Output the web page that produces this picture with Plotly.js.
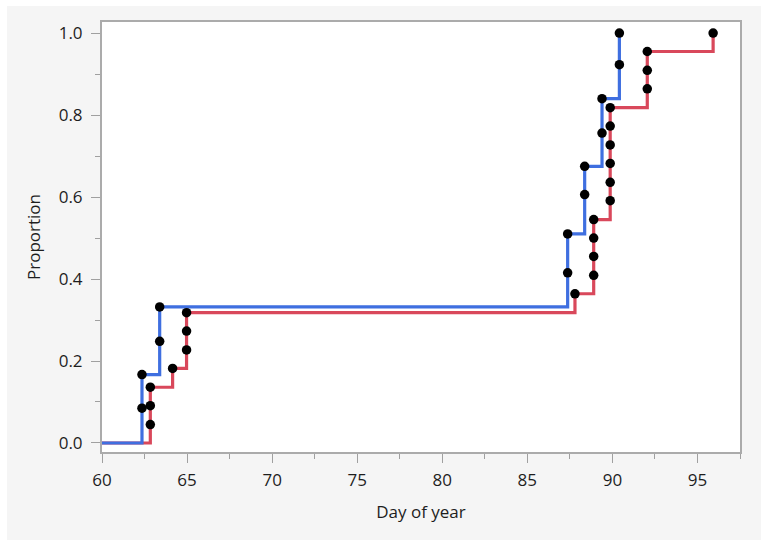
<!DOCTYPE html>
<html>
<head>
<meta charset="utf-8">
<script src="https://cdn.plot.ly/plotly-3.0.1.min.js"></script>
<style>
  html, body { margin: 0; padding: 0; background: #ffffff; }
  #chart { position: absolute; left: 7px; top: 6px; width: 754px; height: 534px; }
</style>
</head>
<body>
<div id="chart"></div>
<script>
// ---- data ----
const blueDays = [62.35, 62.35, 63.39, 63.39, 87.37, 87.37, 88.37, 88.37, 89.39, 89.39, 90.41, 90.41];
const blueProp = [0.085, 0.167, 0.248, 0.332, 0.415, 0.51, 0.606, 0.675, 0.756, 0.84, 0.923, 1.0];

const redDays = [62.84, 62.84, 62.84, 64.15, 64.97, 64.97, 64.97, 87.8, 88.9, 88.9, 88.9, 88.9,
                 89.87, 89.87, 89.87, 89.87, 89.87, 89.87, 92.05, 92.05, 92.05, 95.92];
const redProp = [0.045, 0.091, 0.136, 0.182, 0.227, 0.273, 0.318, 0.364, 0.409, 0.455, 0.5, 0.545,
                 0.591, 0.636, 0.682, 0.727, 0.773, 0.818, 0.864, 0.909, 0.955, 1.0];

const startDay = 60;
const xTickVals = [60, 65, 70, 75, 80, 85, 90, 95];
const yTickVals = [0, 0.2, 0.4, 0.6, 0.8, 1.0];

// build step-line coordinates from the points (highest value at each day)
function stepLine(days, props) {
  const xs = [startDay], ys = [0];
  for (let i = 0; i < days.length; i++) {
    const last = xs.length - 1;
    if (xs[last] === days[i] && last > 0) {
      ys[last] = Math.max(ys[last], props[i]);
    } else {
      xs.push(days[i]); ys.push(props[i]);
    }
  }
  return { xs, ys };
}

const blueColor = '#3f6fe0';
const redColor = '#d9485b';
const redStep = stepLine(redDays, redProp);
const blueStep = stepLine(blueDays, blueProp);

const traces = [
  { x: redStep.xs, y: redStep.ys, mode: 'lines', line: { shape: 'hv', color: redColor, width: 3.2 }, hoverinfo: 'skip' },
  { x: blueStep.xs, y: blueStep.ys, mode: 'lines', line: { shape: 'hv', color: blueColor, width: 3.2 }, hoverinfo: 'skip' },
  { x: redDays, y: redProp, mode: 'markers', marker: { color: '#000000', size: 9.5 } },
  { x: blueDays, y: blueProp, mode: 'markers', marker: { color: '#000000', size: 9.5 } }
];

const fontFam = 'Open Sans, Noto Sans, sans-serif';
const axisCommon = {
  showgrid: false, zeroline: false,
  showline: true, mirror: true, linecolor: '#ababab', linewidth: 2,
  ticks: 'outside', ticklen: 9, tickwidth: 1, tickcolor: '#a0a0a0',
  tickfont: { family: fontFam, size: 17, color: '#1e1e1e' }
};

const layout = {
  width: 754, height: 534,
  paper_bgcolor: '#f5f5f5', plot_bgcolor: '#ffffff',
  showlegend: false,
  margin: { l: 95, r: 21, t: 16, b: 88 },
  xaxis: Object.assign({}, axisCommon, {
    range: [60, 97.5], tickvals: xTickVals, ticklabelstandoff: 3,
    minor: { dtick: 2.5, tick0: 60, ticks: 'outside', ticklen: 5, tickcolor: '#a0a0a0', showgrid: false },
    title: { text: 'Day of year', standoff: 16, font: { family: fontFam, size: 17, color: '#1e1e1e' } }
  }),
  yaxis: Object.assign({}, axisCommon, {
    range: [-0.022, 1.027], tickvals: yTickVals, tickformat: '.1f', ticklabelstandoff: 5,
    minor: { dtick: 0.1, tick0: 0, ticks: 'outside', ticklen: 5, tickcolor: '#a0a0a0', showgrid: false },
    title: { text: 'Proportion', standoff: 14, font: { family: fontFam, size: 17, color: '#1e1e1e' } }
  })
};

Plotly.newPlot('chart', traces, layout, { displayModeBar: false, staticPlot: true });
</script>
</body>
</html>
